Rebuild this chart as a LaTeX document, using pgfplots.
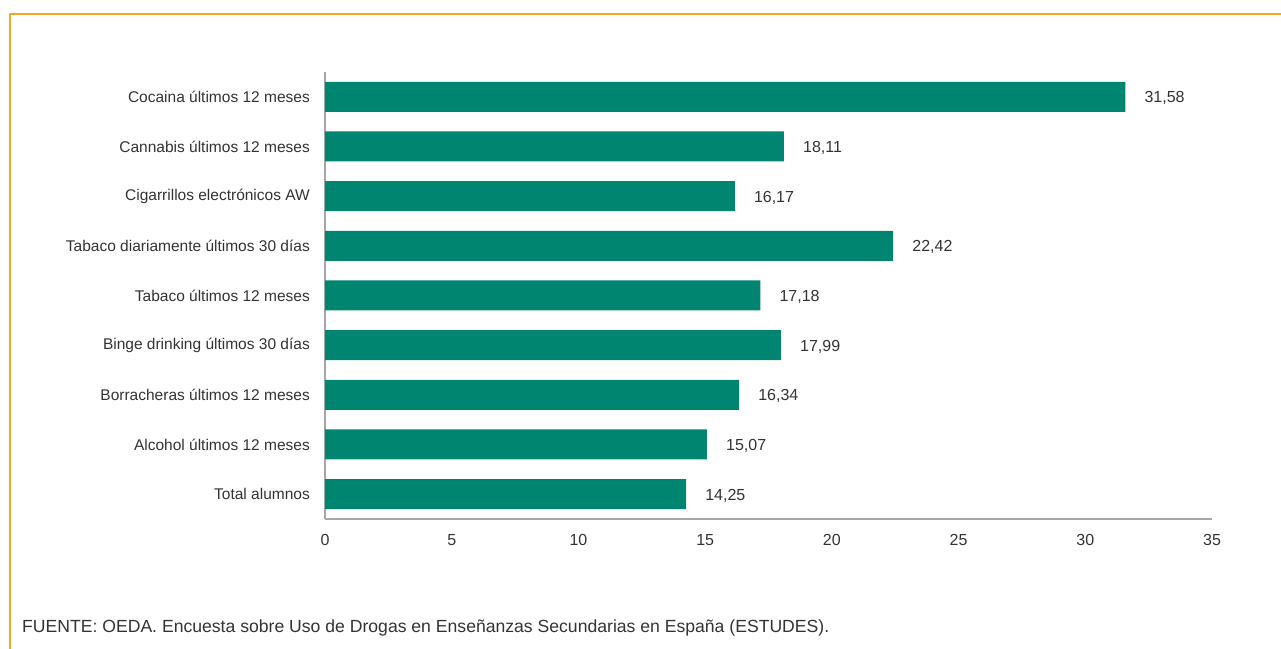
\documentclass[border=0pt]{standalone}
\usepackage{pgfplots}
\pgfplotsset{compat=1.18}
\usepackage{fontspec}
\setmainfont{Liberation Sans}
\definecolor{barteal}{RGB}{0,133,112}
\definecolor{frameorange}{RGB}{247,166,42}
\definecolor{axisgray}{RGB}{166,166,166}
\definecolor{txt}{RGB}{51,51,51}
\begin{document}
\begin{tikzpicture}[x=1bp,y=1bp]
  \useasboundingbox (0,0) rectangle (1281,649);
  % orange frame (top and left only)
  \draw[frameorange, line width=2bp] (10,0) -- (10,635) -- (1281,635);
  \begin{axis}[
      at={(325bp,130bp)}, anchor=south west,
      scale only axis,
      width=887bp, height=447bp,
      xbar, bar width=30bp,
      xmin=0, xmax=35, ymin=-0.5, ymax=8.5,
      axis x line=bottom, axis y line=left,
      axis line style={-, axisgray, line width=2bp},
      major tick length=0pt,
      xtick={0,5,...,35},
      ytick={0,...,8},
      yticklabels={Total alumnos, Alcohol últimos 12 meses, Borracheras últimos 12 meses,
        Binge drinking últimos 30 días, Tabaco últimos 12 meses,
        Tabaco diariamente últimos 30 días, Cigarrillos electrónicos AW,
        Cannabis últimos 12 meses, Cocaina últimos 12 meses},
      tick label style={font=\fontsize{15.5bp}{18bp}\selectfont, text=txt},
      xticklabel style={anchor=center, yshift=-21bp, font=\fontsize{16bp}{18bp}\selectfont,
        /pgf/number format/assume math mode=true},
      yticklabel style={anchor=east, inner sep=0pt, xshift=-15bp},
      nodes near coords,
      every node near coord/.append style={anchor=west, inner sep=0pt, xshift=19bp, yshift=-1.5bp,
        font=\fontsize{16bp}{18bp}\selectfont, text=txt,
        /pgf/number format/.cd, fixed, fixed zerofill, precision=2, use comma,
        assume math mode=true},
      clip=false,
    ]
    \addplot[fill=barteal, draw=none] coordinates {
      (14.25,0) (15.07,1) (16.34,2) (17.99,3) (17.18,4)
      (22.42,5) (16.17,6) (18.11,7) (31.58,8)
    };
  \end{axis}
  \node[anchor=west, inner sep=0pt, text=txt, font=\fontsize{17.6bp}{20bp}\selectfont]
    at (22,21) {FUENTE: OEDA. Encuesta sobre Uso de Drogas en Enseñanzas Secundarias en España (ESTUDES).};
\end{tikzpicture}
\end{document}
